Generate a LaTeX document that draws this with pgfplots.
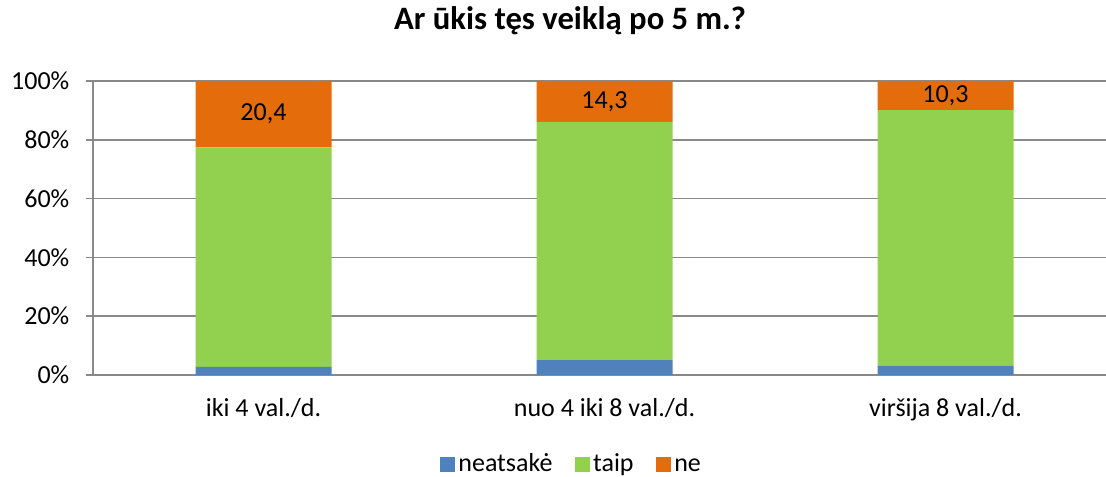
\documentclass[border=0pt]{standalone}
\usepackage{pgfplots}
\pgfplotsset{compat=1.18}
\usepackage{fontspec}
\setmainfont{Carlito}
\definecolor{cblue}{HTML}{4F81BD}
\definecolor{cgreen}{HTML}{92D050}
\definecolor{corange}{HTML}{E46C0A}
\definecolor{cgrid}{HTML}{898989}
\newcommand{\lblfont}{\fontsize{19.5}{23}\selectfont}
\begin{document}
\begin{tikzpicture}
\begin{axis}[
  at={(0,0)}, anchor=south west,
  x=255.75pt, y=2.205pt,
  xmin=-0.5, xmax=2.4707, ymin=0, ymax=100,
  clip=false,
  ybar stacked, bar width=102pt,
  axis x line*=bottom, axis y line*=left,
  axis line style={cgrid, line width=1.3pt},
  ymajorgrids, grid style={cgrid, line width=1.3pt},
  ytick={0,20,40,60,80,100},
  yticklabel={\pgfmathprintnumber{\tick}\%},
  /pgf/number format/assume math mode=true,
  tick align=outside,
  major tick length=5.25pt,
  tick style={cgrid, line width=1.3pt},
  xtick={0,1,2},
  xticklabels={iki 4 val./d., nuo 4 iki 8 val./d., viršija 8 val./d.},
  x tick style={draw=none},
  extra x ticks={-0.5,0.5,1.5},
  extra x tick labels={},
  extra x tick style={grid=none, tick style={draw=cgrid, line width=1.3pt}, major tick length=6pt},
  ticklabel style={font=\lblfont, text=black},
  xticklabel style={anchor=base, yshift=-26pt},
  yticklabel style={xshift=-9pt},
  title={Ar ūkis tęs veiklą po 5 m.?},
  title style={font=\fontsize{24.5}{29}\selectfont\bfseries, at={(0.471,1)}, anchor=base, yshift=32.25pt},
  legend columns=3,
  legend style={draw=none, at={(axis description cs:0.473,-0.306)}, anchor=center,
    font=\lblfont,
    nodes={text height=13pt, text depth=3.5pt, inner xsep=2.25pt},
    /tikz/every odd column/.append style={column sep=0pt},
    /tikz/every even column/.append style={column sep=14.75pt}},
  legend image code/.code={\fill[#1] (0pt,-5.6pt) rectangle (11.25pt,5.6pt);},
]
\addplot[fill=cblue, draw=none] coordinates {(0,2.8) (1,5.1) (2,3.2)};
\addplot[fill=cgreen, draw=none] coordinates {(0,74.6) (1,81.0) (2,86.9)};
\addplot[fill=corange, draw=none] coordinates {(0,22.6) (1,13.9) (2,9.9)};
\legend{neatsakė, taip, ne}
\coordinate (l1) at (axis cs:0,88.7);
\coordinate (l2) at (axis cs:1,93.05);
\coordinate (l3) at (axis cs:2,95.05);
\end{axis}
\node[text=black, font=\lblfont] at (l1) {20,4};
\node[text=black, font=\lblfont] at (l2) {14,3};
\node[text=black, font=\lblfont] at (l3) {10,3};
\pgfresetboundingbox
\path[use as bounding box] (-69.75pt,-76.5pt) rectangle (759.75pt,281.25pt);
\end{tikzpicture}
\end{document}
